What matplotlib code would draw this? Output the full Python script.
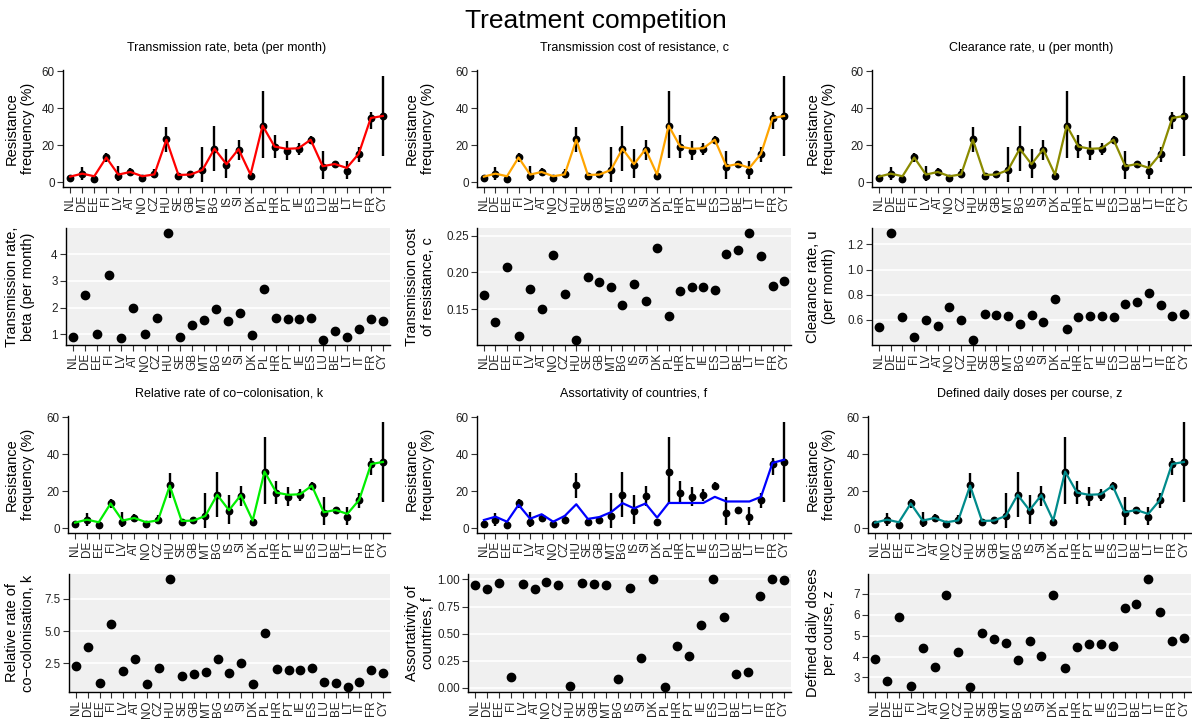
"""Treatment competition: fitted vs observed resistance, and fitted parameters by country."""

import matplotlib
matplotlib.use("Agg")
import matplotlib.pyplot as plt
import numpy as np

plt.rcParams["font.family"] = ["Liberation Sans", "DejaVu Sans"]

countries = ["NL", "DE", "EE", "FI", "LV", "AT", "NO", "CZ", "HU", "SE", "GB", "MT", "BG",
             "IS", "SI", "DK", "PL", "HR", "PT", "IE", "ES", "LU", "BE", "LT", "IT", "FR", "CY"]

# observed resistance frequency (%) with 95% interval
res_obs = [2.5, 4.3, 1.8, 13.9, 3.4, 5.8, 2.4, 4.5, 23.3, 3.3, 4.3, 6.7, 17.9,
           9.4, 17.5, 3.6, 30.6, 19.3, 17.0, 17.9, 23.0, 8.3, 9.8, 6.1, 15.4, 34.7, 35.6]
res_lo = [1.5, 1.3, 1.3, 11.2, 0.7, 4.0, 1.3, 2.7, 16.6, 2.0, 3.0, 0.4, 6.1,
          2.2, 12.1, 2.5, 13.4, 13.0, 12.1, 14.5, 21.2, 1.6, 8.5, 1.6, 11.2, 28.8, 14.3]
res_hi = [3.5, 8.5, 4.0, 16.1, 8.9, 8.0, 3.6, 7.0, 29.8, 4.3, 5.2, 19.3, 30.6,
          17.9, 23.0, 4.5, 49.2, 25.3, 22.1, 21.3, 25.0, 17.0, 10.8, 11.6, 19.3, 38.2, 57.6]

# model fit when one parameter varies between countries
res_fit = [3.1, 4.7, 3.3, 13.4, 4.2, 5.6, 3.3, 4.3, 23.0, 4.0, 4.2, 6.7, 18.1,
           9.8, 17.9, 4.2, 30.6, 19.3, 18.1, 18.4, 23.0, 8.7, 9.9, 7.8, 15.4, 34.7, 35.8]
res_fit_f = [4.5, 6.3, 3.6, 12.7, 5.2, 7.6, 3.6, 6.7, 13.0, 5.1, 6.1, 8.7, 13.6,
             10.8, 13.4, 5.8, 13.7, 13.7, 13.7, 13.7, 17.0, 14.5, 14.5, 14.5, 17.0, 35.3, 37.0]

# fitted country-level parameter values
beta = [0.89, 2.48, 1.01, 3.22, 0.86, 1.99, 1.01, 1.62, 4.79, 0.89, 1.35, 1.52, 1.94,
        1.49, 1.81, 0.95, 2.70, 1.62, 1.56, 1.56, 1.62, 0.79, 1.10, 0.89, 1.18, 1.56, 1.48]
c = [0.170, 0.133, 0.207, 0.114, 0.177, 0.150, 0.224, 0.171, 0.109, 0.194, 0.187, 0.181, 0.156,
     0.184, 0.162, 0.233, 0.141, 0.175, 0.180, 0.180, 0.176, 0.225, 0.230, 0.253, 0.222, 0.182, 0.188]
u = [0.54, 1.288, 0.62, 0.464, 0.60, 0.55, 0.70, 0.60, 0.443, 0.65, 0.64, 0.63, 0.57,
     0.64, 0.58, 0.77, 0.53, 0.62, 0.63, 0.63, 0.62, 0.73, 0.74, 0.81, 0.72, 0.63, 0.65]
k = [2.24, 3.77, 0.97, 5.53, 1.87, 2.79, 0.83, 2.08, 9.03, 1.52, 1.68, 1.84, 2.79,
     1.73, 2.53, 0.83, 4.81, 2.05, 1.94, 1.94, 2.08, 1.02, 0.92, 0.66, 1.00, 1.94, 1.71]
f = [0.95, 0.91, 0.966, 0.097, 0.956, 0.91, 0.978, 0.95, 0.016, 0.966, 0.96, 0.95, 0.084,
     0.925, 0.275, 1.0, 0.012, 0.39, 0.297, 0.578, 1.0, 0.653, 0.128, 0.15, 0.847, 1.0, 0.997]
z = [3.90, 2.84, 5.87, 2.61, 4.40, 3.52, 6.92, 4.24, 2.56, 5.13, 4.82, 4.63, 3.85,
     4.76, 4.03, 6.94, 3.47, 4.45, 4.61, 4.61, 4.48, 6.31, 6.53, 7.69, 6.15, 4.73, 4.89]

W, H = 1192, 720
# y labels are lined up per column (x of the label's right edge, in pixels)
LABEL_X = [35, 435, 836]


def px_axes(fig, left, top, right, bottom):
    return fig.add_axes([left / W, 1 - bottom / H, (right - left) / W, (bottom - top) / H])


def style_axes(ax, col):
    for side in ("top", "right"):
        ax.spines[side].set_visible(False)
    for side in ("left", "bottom"):
        ax.spines[side].set_linewidth(1.0)
        ax.spines[side].set_color("black")
    ax.tick_params(length=4, width=0.8, color="#333333", labelsize=8.4,
                   labelcolor="#222222", pad=2)
    x = np.arange(len(countries))
    ax.set_xticks(x)
    ax.set_xticklabels(countries, rotation=90)
    ax.set_xlim(-0.6, len(countries) - 0.4)
    left = ax.get_position().x0 * W
    width = ax.get_position().width * W
    ax.yaxis.set_label_coords((LABEL_X[col] - left) / width, 0.5)


def plot_fit(ax, col, fit, colour, title):
    x = np.arange(len(countries))
    ax.vlines(x, res_lo, res_hi, color="black", lw=1.7, zorder=2)
    ax.plot(x, res_obs, "o", color="black", ms=4.6, zorder=3)
    ax.plot(x, fit, "-", color=colour, lw=1.6, zorder=4)
    ax.set_ylim(-2.5, 60.6)
    ax.set_yticks([0, 20, 40, 60])
    ax.set_ylabel("Resistance\nfrequency (%)", fontsize=10.5)
    ax.set_title(title, fontsize=9, pad=14)
    style_axes(ax, col)


def plot_param(ax, col, values, label, ticks, fmt):
    x = np.arange(len(countries))
    ax.set_facecolor("#F0F0F0")
    lo, hi = min(values), max(values)
    pad = 0.05 * (hi - lo)
    ax.set_ylim(lo - pad, hi + pad)
    ax.set_yticks(ticks)
    ax.set_yticklabels([fmt.format(t) for t in ticks])
    ax.grid(axis="y", color="white", lw=1.2)
    ax.set_axisbelow(True)
    ax.plot(x, values, "o", color="black", ms=6, zorder=3)
    ax.set_ylabel(label, fontsize=10.5)
    style_axes(ax, col)


fig = plt.figure(figsize=(W / 100, H / 100), dpi=100)
fig.suptitle("Treatment competition", fontsize=19, y=0.988)

top_panels = [
    ((63, 70, 390, 187), 0, res_fit, "red", "Transmission rate, beta (per month)"),
    ((477, 70, 791, 187), 1, res_fit, "orange", "Transmission cost of resistance, c"),
    ((872, 70, 1191, 187), 2, res_fit, "#8B8B00", "Clearance rate, u (per month)"),
    ((68, 416, 390, 533), 0, res_fit, "#00EE00", "Relative rate of co\u2212colonisation, k"),
    ((477, 416, 791, 533), 1, res_fit_f, "#0000FF", "Assortativity of countries, f"),
    ((868, 416, 1191, 533), 2, res_fit, "#008B8B", "Defined daily doses per course, z"),
]
for box, col, fit, colour, title in top_panels:
    plot_fit(px_axes(fig, *box), col, fit, colour, title)

param_panels = [
    ((66, 228, 390, 345), 0, beta, "Transmission rate,\nbeta (per month)", [1, 2, 3, 4], "{:g}"),
    ((477, 228, 791, 345), 1, c, "Transmission cost\nof resistance, c", [0.15, 0.20, 0.25], "{:.2f}"),
    ((872, 228, 1191, 345), 2, u, "Clearance rate, u\n(per month)", [0.6, 0.8, 1.0, 1.2], "{:.1f}"),
    ((69, 574, 390, 692), 0, k, "Relative rate of\nco\u2212colonisation, k", [2.5, 5.0, 7.5], "{:.1f}"),
    ((468, 574, 791, 692), 1, f, "Assortativity of\ncountries, f", [0, 0.25, 0.5, 0.75, 1.0], "{:.2f}"),
    ((868, 574, 1191, 692), 2, z, "Defined daily doses\nper course, z", [3, 4, 5, 6, 7], "{:g}"),
]
for box, col, values, label, ticks, fmt in param_panels:
    plot_param(px_axes(fig, *box), col, values, label, ticks, fmt)

fig.savefig("out.png", dpi=100)
